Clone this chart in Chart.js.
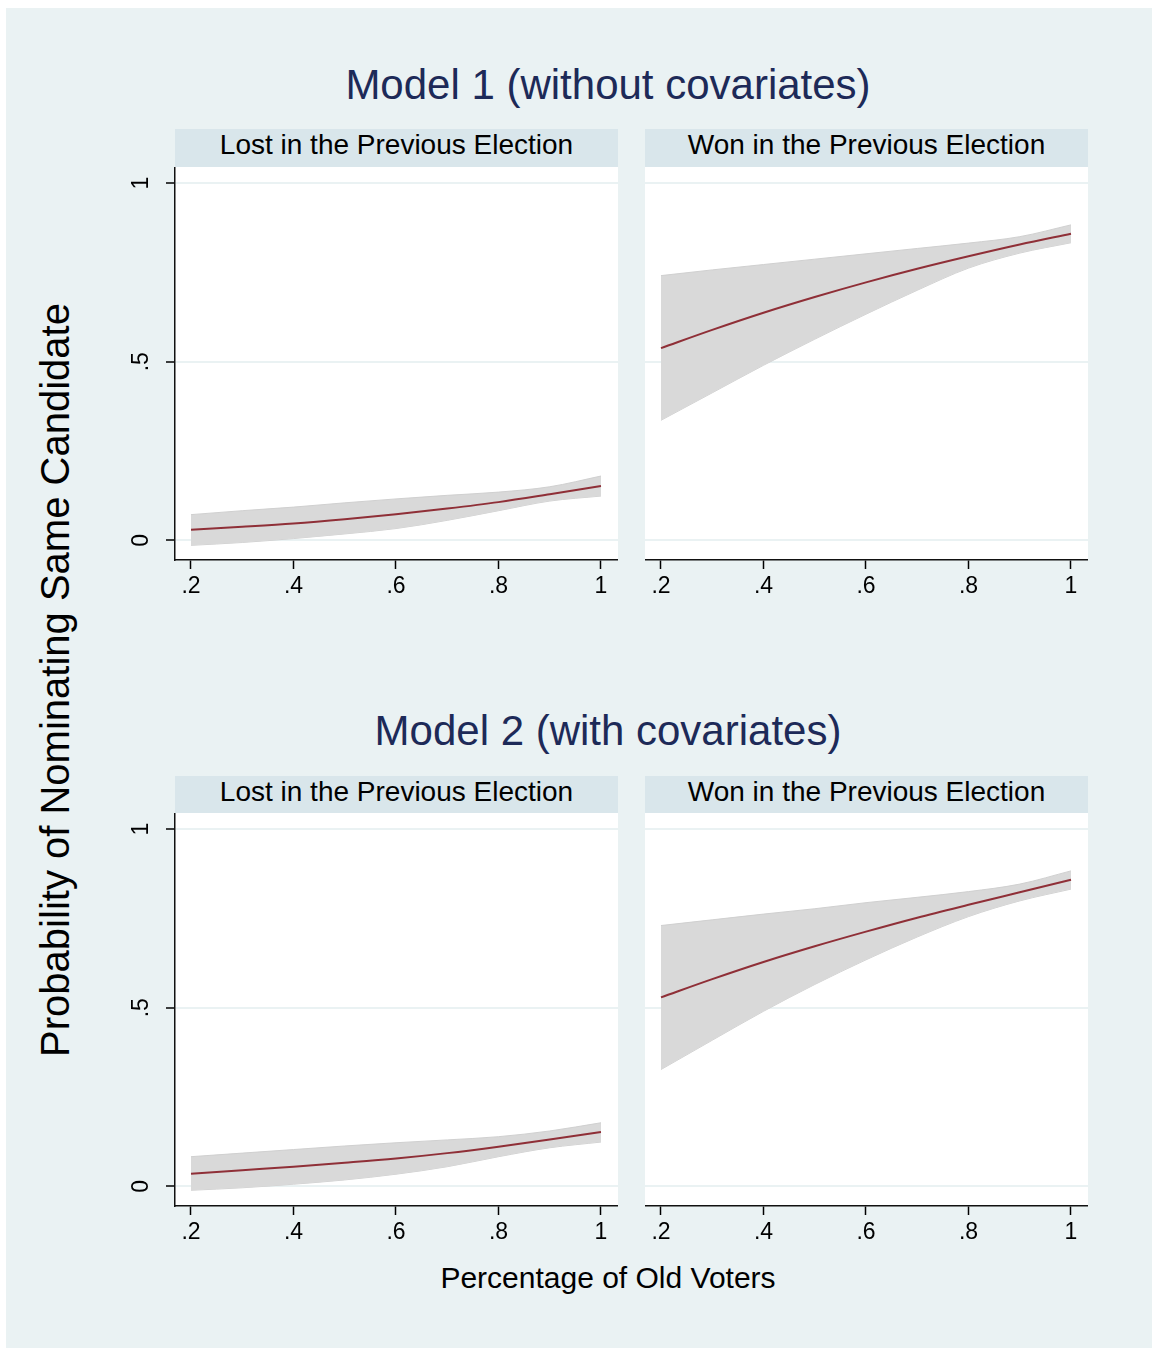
<!DOCTYPE html>
<html>
<head>
<meta charset="utf-8">
<script src="https://cdn.jsdelivr.net/npm/chart.js@4.4.0/dist/chart.umd.min.js"></script>
<style>
  body { margin: 0; background: #fff; font-family: "Liberation Sans", Arial, sans-serif; }
  #bg { position: absolute; left: 6px; top: 8px; width: 1146px; height: 1340px; background: #eaf2f3; }
  .title { position: absolute; left: 0; width: 1216px; text-align: center; font-size: 42px; line-height: 42px; color: #1d2a58; }
  .strip { position: absolute; width: 443px; height: 38px; background: #d9e6eb; }
  .strip span { position: absolute; left: 0; right: 0; top: 2px; text-align: center; font-size: 28px; line-height: 28px; color: #000; }
  .ytitle { position: absolute; left: 55px; top: 680px; transform: translate(-50%, -50%) rotate(-90deg); white-space: nowrap; font-size: 40px; line-height: 40px; color: #000; }
  .xtitle { position: absolute; left: 0; width: 1216px; top: 1263px; text-align: center; font-size: 30px; line-height: 30px; color: #000; }
  canvas { position: absolute; }
</style>
</head>
<body>
<div id="bg"></div>

<div class="title" style="top:64px">Model 1 (without covariates)</div>
<div class="title" style="top:710px">Model 2 (with covariates)</div>

<div class="strip" style="left:175px; top:129px"><span>Lost in the Previous Election</span></div>
<div class="strip" style="left:645px; top:129px"><span>Won in the Previous Election</span></div>
<div class="strip" style="left:175px; top:776px"><span>Lost in the Previous Election</span></div>
<div class="strip" style="left:645px; top:776px"><span>Won in the Previous Election</span></div>

<canvas id="c1" width="518" height="433" style="left:100px; top:167px"></canvas>
<canvas id="c2" width="443" height="433" style="left:645px; top:167px"></canvas>
<canvas id="c3" width="518" height="433" style="left:100px; top:813px"></canvas>
<canvas id="c4" width="443" height="433" style="left:645px; top:813px"></canvas>

<div class="ytitle">Probability of Nominating Same Candidate</div>
<div class="xtitle">Percentage of Old Voters</div>

<script>
// share of old voters (x)
const xVals = [0.2, 0.3, 0.4, 0.5, 0.6, 0.7, 0.8, 0.9, 1.0];

// Model 1 - lost in previous election
const m1LostMean  = [0.030, 0.038, 0.047, 0.059, 0.073, 0.089, 0.107, 0.129, 0.152];
const m1LostUpper = [0.072, 0.083, 0.093, 0.105, 0.116, 0.126, 0.135, 0.150, 0.180];
const m1LostLower = [-0.014, -0.006, 0.005, 0.018, 0.033, 0.056, 0.083, 0.110, 0.124];

// Model 1 - won in previous election
const m1WonMean  = [0.538, 0.589, 0.637, 0.681, 0.722, 0.760, 0.795, 0.828, 0.858];
const m1WonUpper = [0.741, 0.757, 0.772, 0.787, 0.802, 0.817, 0.832, 0.850, 0.883];
const m1WonLower = [0.336, 0.413, 0.490, 0.563, 0.633, 0.700, 0.762, 0.804, 0.833];

// Model 2 - lost in previous election
const m2LostMean  = [0.035, 0.045, 0.055, 0.066, 0.078, 0.093, 0.111, 0.131, 0.152];
const m2LostUpper = [0.083, 0.093, 0.103, 0.113, 0.122, 0.130, 0.139, 0.155, 0.178];
const m2LostLower = [-0.011, -0.004, 0.006, 0.018, 0.034, 0.055, 0.083, 0.108, 0.124];

// Model 2 - won in previous election
const m2WonMean  = [0.529, 0.580, 0.628, 0.672, 0.713, 0.752, 0.788, 0.823, 0.858];
const m2WonUpper = [0.730, 0.746, 0.762, 0.777, 0.794, 0.809, 0.825, 0.846, 0.883];
const m2WonLower = [0.327, 0.409, 0.490, 0.565, 0.634, 0.698, 0.755, 0.799, 0.832];

const xTicks = [0.2, 0.4, 0.6, 0.8, 1];
const xTickLabels = [".2", ".4", ".6", ".8", "1"];
const yTicks = [0, 0.5, 1];
const yTickLabels = ["0", ".5", "1"];

Chart.defaults.font.family = "'Liberation Sans', Arial, sans-serif";
Chart.defaults.color = "#000";

function pts(ys) {
  return xVals.map((x, i) => ({ x: x, y: ys[i] }));
}

function makePanel(id, mean, upper, lower, showY) {
  const ctx = document.getElementById(id).getContext("2d");
  return new Chart(ctx, {
    type: "line",
    data: {
      datasets: [
        {
          data: pts(mean),
          borderColor: "#8f2f37",
          borderWidth: 2,
          pointRadius: 0,
          fill: false,
          cubicInterpolationMode: "monotone",
        },
        {
          data: pts(upper),
          borderColor: "#d0d0d0",
          borderWidth: 1,
          backgroundColor: "#d9d9d9",
          pointRadius: 0,
          fill: "+1",
          cubicInterpolationMode: "monotone",
        },
        {
          data: pts(lower),
          borderColor: "#d0d0d0",
          borderWidth: 1,
          pointRadius: 0,
          fill: false,
          cubicInterpolationMode: "monotone",
        },
      ],
    },
    options: {
      responsive: false,
      animation: false,
      layout: { padding: 0 },
      plugins: { legend: { display: false }, tooltip: { enabled: false } },
      scales: {
        x: {
          type: "linear",
          min: 0.1688,
          max: 1.0332,
          afterBuildTicks: (s) => { s.ticks = xTicks.map((v) => ({ value: v })); },
          afterFit: (s) => { s.height = 40; s.paddingLeft = 0; s.paddingRight = 0; },
          ticks: {
            font: { size: 23 },
            padding: 4,
            maxRotation: 0,
            autoSkip: false,
            callback: (v) => xTickLabels[xTicks.indexOf(v)],
          },
          grid: {
            drawOnChartArea: false,
            drawTicks: true,
            tickLength: 9,
            tickColor: "#000",
            tickWidth: 1.5,
          },
          border: { display: true, color: "#111", width: 1.5 },
        },
        y: {
          type: "linear",
          min: -0.055,
          max: 1.045,
          afterBuildTicks: (s) => { s.ticks = yTicks.map((v) => ({ value: v })); },
          afterFit: (s) => {
            s.width = showY ? 75 : 0;
            s.paddingTop = 0;
            s.paddingBottom = 0;
          },
          ticks: {
            display: showY,
            font: { size: 23 },
            padding: 15,
            minRotation: 90,
            maxRotation: 90,
            crossAlign: "center",
            callback: (v) => yTickLabels[yTicks.indexOf(v)],
          },
          grid: {
            color: "#eaf2f3",
            lineWidth: 2,
            drawTicks: showY,
            tickLength: 9,
            tickColor: "#000",
            tickWidth: 1.5,
          },
          border: { display: showY, color: "#111", width: 1.5 },
        },
      },
    },
    plugins: [
      {
        id: "plotBg",
        beforeDraw(chart) {
          const a = chart.chartArea;
          const c = chart.ctx;
          c.save();
          c.fillStyle = "#fff";
          c.fillRect(a.left, a.top, a.right - a.left, a.bottom - a.top);
          c.restore();
        },
      },
    ],
  });
}

makePanel("c1", m1LostMean, m1LostUpper, m1LostLower, true);
makePanel("c2", m1WonMean, m1WonUpper, m1WonLower, false);
makePanel("c3", m2LostMean, m2LostUpper, m2LostLower, true);
makePanel("c4", m2WonMean, m2WonUpper, m2WonLower, false);
</script>
</body>
</html>
